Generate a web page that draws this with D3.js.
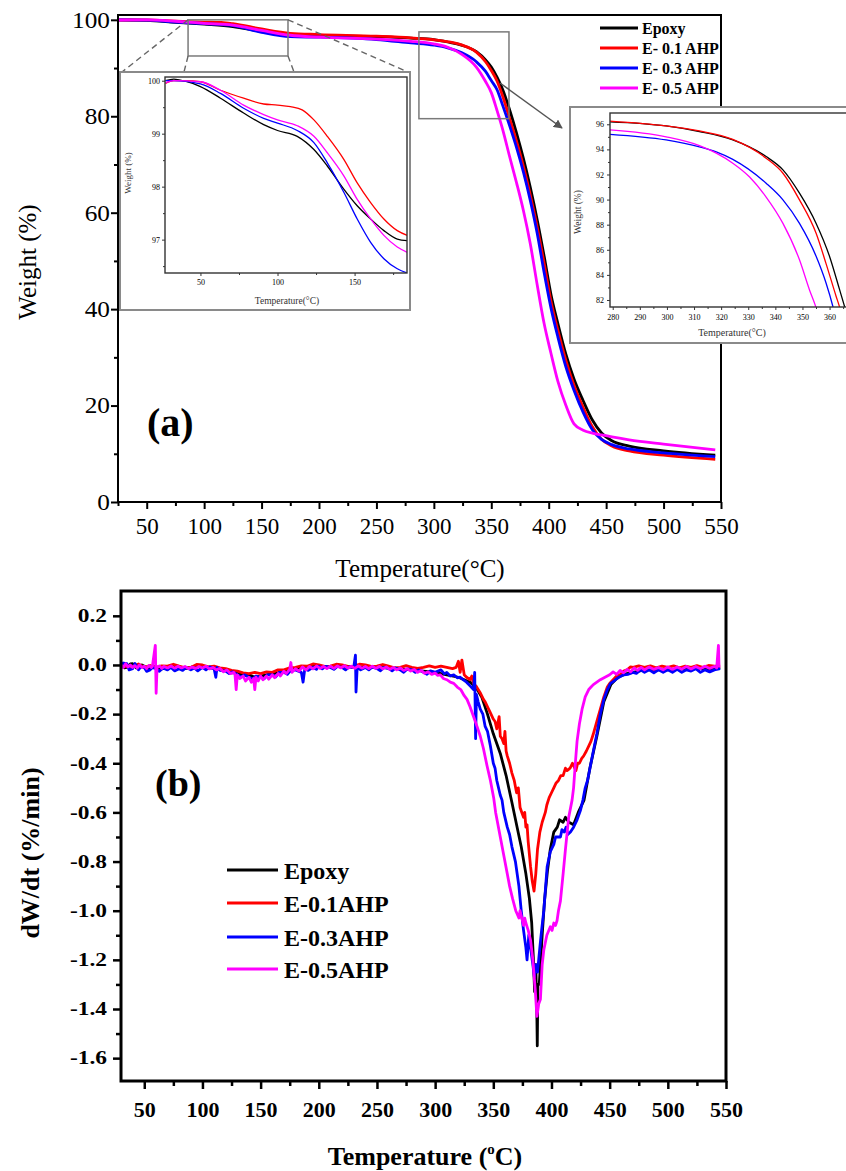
<!DOCTYPE html>
<html><head><meta charset="utf-8">
<script src="https://cdn.jsdelivr.net/npm/d3@7"></script>
<style>body{margin:0;background:#fff}svg{display:block}</style>
</head><body>
<svg id="c" width="846" height="1171"></svg>
<script>
// ---------------- DATA ----------------
const namesA = ["Epoxy", "E- 0.1 AHP", "E- 0.3 AHP", "E- 0.5 AHP"];
const namesB = ["Epoxy", "E-0.1AHP", "E-0.3AHP", "E-0.5AHP"];
const colors = ["#000000", "#ff0000", "#0000ff", "#ff00ff"];

// (a) main TGA curves  [temperature °C, weight %]
const tgaEpoxy = [[25,100.0],[50,99.9],[75,99.5],[100,99.1],[125,98.6],[150,97.6],[175,96.9],[200,96.7],[250,96.5],[280,96.2],[300,95.9],[312,95.4],[324,94.75],[337,93.4],[345,91.7],[350,90.2],[355,88.1],[360,85.5],[366,81.3],[372,76.5],[378,71.2],[384,65.2],[390,58.5],[396,51],[402,43],[408,37],[415,30.6],[422,25.5],[430,21],[438,17],[446,14.3],[455,12.7],[470,11.6],[500,10.6],[545,9.7]];
const tgaE01 = [[25,99.95],[50,99.98],[75,99.75],[100,99.54],[115,99.45],[125,99.2],[150,98.1],[175,97.2],[200,96.95],[250,96.6],[280,96.26],[300,95.87],[312,95.47],[324,94.8],[337,93.3],[345,91.3],[350,89.5],[355,87.3],[360,84.1],[366,79.5],[372,74.8],[378,69.6],[384,63.6],[390,57],[396,49.5],[402,41.6],[408,35.6],[415,29.3],[422,24.2],[430,19.6],[438,15.6],[446,13.0],[455,11.6],[470,10.6],[500,9.7],[545,8.85]];
const tgaE03 = [[25,100.0],[50,99.94],[75,99.55],[100,99.2],[125,98.8],[150,97.4],[175,96.5],[200,96.4],[250,95.9],[280,95.2],[300,94.75],[312,94.2],[324,93.2],[337,91.3],[345,89.3],[350,87.4],[355,85.5],[360,82.2],[366,78.0],[372,73.5],[378,68.4],[384,62.5],[390,55.7],[396,47.6],[402,40.2],[408,34.2],[415,28.0],[422,23.2],[430,18.6],[438,15.0],[446,13.0],[455,11.9],[470,11.0],[500,10.2],[545,9.4]];
const tgaE05 = [[25,99.96],[50,99.98],[75,99.7],[100,99.26],[125,98.9],[150,97.8],[175,96.8],[200,96.4],[250,96.0],[280,95.55],[300,95.0],[312,94.3],[324,92.9],[337,90.2],[345,87.2],[350,84.9],[355,81.2],[360,77.2],[366,71.6],[372,66.2],[378,60.4],[384,53.5],[390,45.0],[396,37.0],[402,30.8],[408,25.0],[415,20.0],[422,16.2],[430,14.9],[438,14.3],[446,13.9],[455,13.5],[470,12.9],[500,12.0],[545,10.8]];

// (a) left inset (low-temperature zoom)
const insLoEpoxy = [[27.3,100.0],[32.7,100.03],[40,99.99],[50,99.89],[63,99.67],[78,99.39],[91,99.17],[100,99.06],[112.8,98.95],[123.6,98.7],[132.3,98.39],[143.1,97.95],[151.7,97.64],[160.4,97.39],[169,97.17],[177.7,97.01],[184.2,96.98]];
const insLoE01 = [[27.3,99.95],[32.7,100.0],[40,100.0],[50,99.98],[63,99.82],[78,99.67],[91,99.56],[100,99.54],[108.4,99.51],[116,99.45],[123.6,99.26],[132.3,98.95],[143.1,98.51],[151.7,98.07],[160.4,97.7],[169,97.39],[177.7,97.17],[184.2,97.08]];
const insLoE03 = [[27.3,100.0],[32.7,100.0],[50,99.94],[63,99.76],[78,99.48],[91,99.29],[100,99.2],[112.8,99.06],[123.6,98.83],[132.3,98.45],[143.1,97.89],[151.7,97.39],[160.4,96.95],[169,96.64],[177.7,96.45],[184.2,96.37]];
const insLoE05 = [[27.3,99.96],[32.7,100.0],[50,99.98],[63,99.82],[78,99.54],[91,99.36],[100,99.26],[112.8,99.15],[123.6,98.95],[132.3,98.64],[143.1,98.2],[151.7,97.76],[160.4,97.39],[169,97.08],[177.7,96.86],[184.2,96.76]];

// (a) right inset (onset zoom)
const insHiEpoxy = [[279,96.2],[299.7,95.87],[312,95.42],[324.3,94.75],[336.6,93.43],[342.8,92.37],[348.9,90.51],[355,88.12],[360,85.47],[363.7,82.82],[365.5,81.5],[366.5,80.7]];
const insHiE01 = [[279,96.26],[299.7,95.87],[312,95.47],[324.3,94.8],[336.6,93.3],[342.8,92.1],[348.9,89.98],[355,87.33],[358.7,84.9],[362.4,82.3],[363.8,81.36],[364.5,80.8]];
const insHiE03 = [[279,95.2],[299.7,94.75],[312,94.2],[318.2,93.8],[324.3,93.2],[336.6,91.3],[342.8,89.98],[348.9,88.1],[355,85.5],[358.7,83.35],[361.2,81.5],[362,80.8]];
const insHiE05 = [[279,95.55],[299.7,95.0],[312,94.3],[318.2,93.7],[324.3,92.9],[330.5,91.8],[336.6,90.2],[342.8,88.1],[348.9,85.2],[352.6,82.8],[355,81.4],[356,80.7]];

// (b) DTG curves [temperature °C, dW/dt %/min]
const dtgEpoxy = [[30,0.0],[33,-0.012],[35,-0.01],[38,0.004],[40,0.005],[43,-0.012],[45,-0.01],[48,0.0],[50,-0.005],[53,-0.016],[55,-0.015],[58,-0.004],[60,-0.01],[65,-0.016],[70,-0.012],[75,-0.004],[80,-0.008],[85,-0.015],[90,-0.01],[95,-0.002],[100,-0.005],[105,-0.014],[110,-0.012],[115,-0.018],[120,-0.02],[125,-0.032],[130,-0.03],[135,-0.042],[140,-0.04],[145,-0.05],[150,-0.045],[155,-0.04],[160,-0.035],[165,-0.032],[170,-0.025],[175,-0.02],[180,-0.015],[185,-0.012],[190,-0.008],[200,-0.005],[210,-0.008],[220,-0.005],[230,-0.01],[240,-0.008],[250,-0.01],[260,-0.012],[270,-0.015],[280,-0.02],[290,-0.025],[300,-0.03],[310,-0.04],[320,-0.05],[330,-0.07],[335,-0.09],[340,-0.13],[345,-0.2],[350,-0.28],[356,-0.36],[361,-0.45],[366,-0.56],[370,-0.65],[374,-0.74],[378,-0.85],[381,-0.95],[383,-1.05],[384.5,-1.2],[385.5,-1.33],[386.5,-1.22],[387.3,-1.38],[387.8,-1.55],[388.3,-1.3],[389.5,-1.3],[390.5,-1.22],[392,-1.1],[394,-0.96],[396.5,-0.84],[399,-0.75],[402,-0.68],[405,-0.66],[407,-0.63],[410,-0.64],[412,-0.62],[415,-0.64],[419,-0.65],[423,-0.6],[428,-0.55],[433,-0.42],[439,-0.29],[445,-0.15],[451,-0.08],[457,-0.05],[465,-0.035],[480,-0.02],[500,-0.02],[520,-0.015],[540,-0.015],[545,-0.01]];
const dtgE01 = [[30,0.0],[35,-0.008],[40,-0.005],[45,0.004],[50,-0.01],[55,-0.002],[60,-0.01],[65,-0.004],[70,-0.005],[75,0.003],[80,-0.005],[85,-0.012],[90,-0.01],[95,0.002],[100,0.0],[105,-0.008],[110,-0.005],[115,-0.012],[120,-0.015],[125,-0.022],[130,-0.025],[135,-0.032],[140,-0.035],[145,-0.03],[150,-0.035],[155,-0.028],[160,-0.03],[165,-0.02],[170,-0.02],[175,-0.012],[180,-0.01],[185,-0.004],[190,-0.005],[195,0.004],[200,0.0],[205,-0.006],[210,-0.005],[215,0.003],[220,0.0],[225,-0.006],[230,-0.005],[235,0.003],[240,0.0],[245,-0.006],[250,-0.005],[255,0.002],[260,-0.005],[265,-0.012],[270,-0.01],[275,-0.003],[280,-0.01],[285,-0.014],[290,-0.01],[295,-0.004],[300,-0.01],[305,-0.005],[310,-0.01],[315,-0.015],[318,-0.01],[320,0.015],[321.5,-0.03],[323,0.02],[325,-0.04],[327,-0.05],[330,-0.06],[331.5,-0.045],[333,-0.075],[335,-0.085],[337,-0.1],[339,-0.115],[341.5,-0.14],[343,-0.15],[345,-0.17],[347,-0.19],[350,-0.22],[351.5,-0.23],[353,-0.26],[355,-0.21],[356,-0.29],[357.5,-0.3],[359,-0.32],[360,-0.27],[361,-0.35],[362,-0.37],[364,-0.4],[366,-0.44],[368,-0.47],[370,-0.52],[371.5,-0.5],[373,-0.58],[374.5,-0.6],[376,-0.62],[377,-0.6],[378,-0.66],[379,-0.65],[380,-0.72],[382,-0.82],[383.5,-0.88],[385,-0.92],[386.5,-0.85],[388,-0.75],[390,-0.68],[392,-0.64],[394.7,-0.6],[396,-0.57],[398,-0.54],[400,-0.52],[402,-0.5],[404,-0.48],[406,-0.47],[408,-0.45],[410,-0.45],[412,-0.42],[413.4,-0.43],[416,-0.42],[418,-0.4],[419,-0.41],[421,-0.43],[422.5,-0.4],[424,-0.4],[426,-0.38],[427.7,-0.37],[430,-0.35],[432,-0.33],[434,-0.31],[436,-0.28],[439,-0.23],[442,-0.18],[445,-0.13],[448,-0.09],[450,-0.075],[453,-0.06],[456,-0.045],[459,-0.04],[462,-0.025],[465,-0.02],[468,-0.008],[470,-0.01],[475,-0.004],[480,-0.01],[485,-0.004],[490,-0.012],[495,-0.005],[500,-0.01],[505,-0.004],[510,-0.012],[515,-0.005],[520,-0.01],[525,-0.003],[530,-0.01],[535,-0.002],[540,-0.005],[545,-0.005]];
const dtgE03 = [[30,-0.01],[32,0.008],[35,0.005],[37,-0.02],[40,-0.015],[42,0.006],[45,-0.02],[47,-0.008],[50,-0.01],[52,-0.026],[55,-0.02],[57,-0.01],[60,-0.015],[63,-0.026],[66,-0.012],[70,-0.02],[73,-0.01],[76,-0.024],[80,-0.015],[83,-0.022],[86,-0.01],[90,-0.02],[93,-0.012],[96,-0.024],[100,-0.01],[103,-0.02],[106,-0.008],[110,-0.015],[111.5,-0.05],[112.5,-0.01],[115,-0.022],[120,-0.025],[123,-0.035],[126,-0.028],[130,-0.04],[133,-0.05],[136,-0.04],[140,-0.05],[143,-0.058],[146,-0.045],[150,-0.05],[153,-0.056],[156,-0.04],[160,-0.04],[163,-0.048],[166,-0.03],[170,-0.03],[173,-0.038],[176,-0.022],[180,-0.02],[185,-0.03],[186.5,-0.07],[188,-0.015],[191,-0.022],[195,-0.01],[198,-0.018],[200,-0.005],[203,-0.016],[206,-0.006],[210,-0.01],[213,-0.018],[216,-0.006],[220,-0.01],[223,-0.02],[226,-0.008],[230,-0.01],[231.5,0.04],[232,-0.11],[233,-0.01],[236,-0.02],[240,-0.01],[243,-0.02],[246,-0.008],[250,-0.015],[253,-0.024],[256,-0.01],[260,-0.015],[263,-0.024],[266,-0.012],[270,-0.02],[273,-0.03],[276,-0.016],[280,-0.02],[283,-0.03],[286,-0.02],[290,-0.03],[293,-0.038],[296,-0.024],[300,-0.03],[305,-0.02],[308,-0.036],[310,-0.03],[313,-0.045],[316,-0.04],[319,-0.052],[321.6,-0.05],[324,-0.06],[327,-0.07],[330,-0.085],[333,-0.1],[334,-0.03],[334.8,-0.3],[335.5,-0.12],[337,-0.15],[338.8,-0.18],[341,-0.2],[343,-0.25],[345,-0.27],[347.5,-0.33],[350,-0.4],[351.5,-0.42],[353,-0.47],[356,-0.53],[357.5,-0.55],[359,-0.6],[362,-0.66],[364,-0.69],[366,-0.74],[369,-0.8],[372,-0.9],[374,-1.0],[376,-1.08],[378,-1.15],[379,-1.2],[380.5,-1.1],[382,-1.15],[384,-1.22],[385.3,-1.27],[386.5,-1.22],[388,-1.25],[390,-1.15],[391.5,-1.08],[393.4,-1.0],[396.3,-0.82],[399,-0.76],[402,-0.73],[403.5,-0.7],[405,-0.7],[407.7,-0.7],[409,-0.67],[411,-0.68],[412.5,-0.66],[414,-0.69],[416.3,-0.68],[419,-0.66],[422,-0.63],[425,-0.59],[427,-0.55],[429,-0.5],[431,-0.47],[433.5,-0.41],[436,-0.35],[439,-0.28],[442,-0.2],[445,-0.14],[448,-0.1],[450.7,-0.075],[453,-0.068],[455,-0.06],[458,-0.05],[462,-0.04],[466,-0.038],[470,-0.03],[473,-0.034],[476.5,-0.02],[480,-0.03],[484,-0.02],[488,-0.032],[492,-0.02],[496,-0.03],[500,-0.02],[504,-0.03],[508,-0.018],[512,-0.03],[516,-0.02],[520,-0.025],[524,-0.015],[528,-0.03],[532,-0.02],[536,-0.028],[540,-0.02],[545,-0.015]];
const dtgE05 = [[30,0.0],[32,-0.01],[34,0.005],[36,-0.008],[38,0.0],[40,-0.01],[42,-0.003],[44,-0.012],[46,0.0],[48,-0.01],[50,-0.005],[52,-0.015],[54,-0.002],[56,-0.01],[57,-0.005],[59.5,0.08],[60.2,-0.115],[61,-0.01],[63,-0.004],[65,-0.014],[67,-0.006],[70,-0.012],[73,-0.004],[76,-0.013],[79,-0.005],[82,-0.012],[85,-0.006],[88,-0.015],[91,-0.008],[94,-0.014],[97,-0.006],[100,-0.012],[103,-0.005],[106,-0.016],[109,-0.01],[112,-0.02],[115,-0.014],[118,-0.028],[121,-0.02],[124,-0.035],[127,-0.03],[128,-0.04],[129,-0.1],[130,-0.04],[132,-0.055],[135,-0.045],[137,-0.065],[140,-0.05],[142,-0.07],[144,-0.055],[145,-0.1],[146,-0.05],[148,-0.065],[150,-0.045],[152,-0.06],[155,-0.045],[157,-0.058],[160,-0.04],[162,-0.052],[165,-0.035],[167,-0.045],[170,-0.025],[172,-0.035],[175,-0.018],[176,0.01],[177,-0.03],[180,-0.015],[183,-0.025],[186,-0.008],[189,-0.02],[192,-0.006],[195,-0.016],[198,-0.004],[201,-0.014],[204,-0.006],[207,-0.015],[210,-0.005],[213,-0.014],[216,-0.004],[219,-0.012],[222,-0.003],[225,-0.013],[228,-0.005],[231,-0.014],[234,-0.004],[237,-0.013],[240,-0.006],[243,-0.015],[246,-0.005],[249,-0.014],[252,-0.006],[255,-0.016],[258,-0.008],[261,-0.018],[264,-0.01],[267,-0.02],[270,-0.012],[273,-0.022],[276,-0.015],[279,-0.025],[282,-0.018],[285,-0.03],[288,-0.022],[291,-0.034],[294,-0.028],[297,-0.038],[300,-0.033],[302,-0.042],[304.5,-0.04],[307,-0.055],[310,-0.06],[313,-0.07],[316,-0.075],[319,-0.09],[322,-0.1],[325,-0.125],[327.4,-0.14],[330,-0.17],[333,-0.21],[336,-0.25],[338.8,-0.29],[341.5,-0.34],[344.6,-0.41],[347.5,-0.47],[350.3,-0.54],[352,-0.6],[354,-0.65],[356,-0.7],[358,-0.75],[360,-0.8],[362,-0.85],[364,-0.9],[366.5,-0.95],[369.3,-1.0],[372,-1.03],[373,-1.0],[374,-1.02],[376,-1.06],[377,-1.03],[378,-1.05],[380,-1.08],[382,-1.12],[384,-1.2],[386,-1.32],[387.5,-1.43],[389,-1.38],[390.5,-1.36],[392,-1.22],[393.4,-1.16],[396,-1.1],[399,-1.065],[400.5,-1.08],[402,-1.05],[403.5,-1.06],[404.8,-1.04],[406,-1.0],[407.7,-0.96],[410,-0.85],[412,-0.75],[414.8,-0.62],[417.7,-0.55],[419,-0.5],[420.5,-0.4],[422,-0.31],[424,-0.24],[426.3,-0.18],[429,-0.13],[432,-0.1],[434,-0.09],[436,-0.08],[439,-0.07],[442,-0.06],[446,-0.05],[450,-0.04],[453,-0.028],[456,-0.038],[459,-0.022],[462,-0.032],[465,-0.018],[468,-0.028],[471,-0.012],[474,-0.022],[477,-0.01],[480,-0.02],[484,-0.008],[488,-0.018],[492,-0.01],[496,-0.02],[500,-0.008],[504,-0.018],[508,-0.008],[512,-0.017],[516,-0.006],[520,-0.016],[524,-0.006],[528,-0.015],[532,-0.005],[536,-0.014],[540,-0.006],[542,-0.012],[543.5,0.08],[544,-0.01]];

// tick values
const xTicksA = [50,100,150,200,250,300,350,400,450,500,550];
const xMinorA = [25,75,125,175,225,275,325,375,425,475,525];
const yTicksA = [0,20,40,60,80,100];
const yMinorA = [10,30,50,70,90];
const xTicksLo = [50,100,150], xMinorLo = [75,125,175];
const yTicksLo = [97,98,99,100], yMinorLo = [96.5,97.5,98.5,99.5];
const xTicksHi = [280,290,300,310,320,330,340,350,360], xMinorHi = [285,295,305,315,325,335,345,355,365];
const yTicksHi = [82,84,86,88,90,92,94,96], yMinorHi = [83,85,87,89,91,93,95];
const xTicksB = [50,100,150,200,250,300,350,400,450,500,550];
const xMinorB = [75,125,175,225,275,325,375,425,475,525];
const yTicksB = [0.2,0.0,-0.2,-0.4,-0.6,-0.8,-1.0,-1.2,-1.4,-1.6];
const yMinorB = [0.1,-0.1,-0.3,-0.5,-0.7,-0.9,-1.1,-1.3,-1.5];

// ---------------- DRAWING ----------------
const serif = "'Liberation Serif','Times New Roman',serif";
const svg = d3.select("#c");
const defs = svg.append("defs");

function axes(g, o) {
  const [xl, xr] = o.x.range(); const [yb, yt] = o.y.range();
  const parts = [];
  const bx = g.append("g").attr("transform", `translate(0,${yb})`)
    .call(d3.axisBottom(o.x).tickValues(o.xTicks).tickSize(o.major).tickPadding(o.xPad).tickFormat(o.xFmt));
  parts.push(bx);
  parts.push(g.append("g").attr("transform", `translate(0,${yb})`)
    .call(d3.axisBottom(o.x).tickValues(o.xMinor).tickSize(o.minor).tickFormat("")));
  const ly = g.append("g").attr("transform", `translate(${xl},0)`)
    .call(d3.axisLeft(o.y).tickValues(o.yTicks).tickSize(o.major).tickPadding(o.yPad).tickFormat(o.yFmt));
  parts.push(ly);
  parts.push(g.append("g").attr("transform", `translate(${xl},0)`)
    .call(d3.axisLeft(o.y).tickValues(o.yMinor).tickSize(o.minor).tickFormat("")));
  parts.forEach(a => {
    a.select(".domain").remove();
    a.selectAll("line").attr("stroke", o.color).attr("stroke-width", o.tw);
    a.selectAll("text").attr("font-family", serif).attr("font-size", o.font)
      .attr("font-weight", o.weight).attr("fill", "#000");
  });
  if (o.xFont) bx.selectAll("text").attr("font-size", o.xFont);
  if (o.ysx) {
    ly.selectAll("text").attr("x", -(o.major + o.yPad) / o.ysx).attr("transform", `scale(${o.ysx},1)`);
  }
  g.append("rect").attr("x", xl).attr("y", yt).attr("width", xr - xl).attr("height", yb - yt)
    .attr("fill", "none").attr("stroke", o.color).attr("stroke-width", o.fw);
}

function clip(id, x, y) {
  const [xl, xr] = x.range(); const [yb, yt] = y.range();
  defs.append("clipPath").attr("id", id).append("rect")
    .attr("x", xl).attr("y", yt).attr("width", xr - xl).attr("height", yb - yt);
}

function curves(g, x, y, sets, sw, curve, clipId) {
  const line = d3.line().x(d => x(d[0])).y(d => y(d[1])).curve(curve);
  const cg = g.append("g").attr("clip-path", `url(#${clipId})`);
  sets.forEach((s, i) => cg.append("path").attr("d", line(s)).attr("fill", "none")
    .attr("stroke", colors[i]).attr("stroke-width", sw).attr("stroke-linejoin", "round"));
}

// ===== Panel (a) =====
const xA = d3.scaleLinear([25, 550], [118, 721]);
const yA = d3.scaleLinear([0, 101], [502, 15]);
const gA = svg.append("g");
clip("clipA", xA, yA);
curves(gA, xA, yA, [tgaEpoxy, tgaE01, tgaE03, tgaE05], 2.8, d3.curveMonotoneX, "clipA");
axes(gA, {x: xA, y: yA, xTicks: xTicksA, xMinor: xMinorA, yTicks: yTicksA, yMinor: yMinorA,
  major: 7, minor: 4, xPad: 9, yPad: 1, xFmt: d3.format("d"), yFmt: d3.format("d"),
  font: 23, weight: "normal", color: "#000", tw: 2, fw: 2, ysx: 1.1});

gA.append("text").attr("transform", "translate(36,262) rotate(-90)").attr("text-anchor", "middle")
  .attr("font-family", serif).attr("font-size", 25).text("Weight (%)");
gA.append("text").attr("x", 420).attr("y", 577).attr("text-anchor", "middle")
  .attr("font-family", serif).attr("font-size", 25).text("Temperature(°C)");
gA.append("text").attr("x", 147).attr("y", 436).attr("font-family", serif).attr("font-size", 40)
  .attr("font-weight", "bold").text("(a)");

// legend (a)
namesA.forEach((n, i) => {
  const yy = 28 + i * 20;
  gA.append("line").attr("x1", 600).attr("x2", 638).attr("y1", yy).attr("y2", yy)
    .attr("stroke", colors[i]).attr("stroke-width", 3);
  gA.append("text").attr("x", 642).attr("y", yy + 5.5).attr("font-family", serif)
    .attr("font-size", 16).attr("font-weight", "bold").text(n);
});

// zoom rectangles + connectors
const gray = "#7a7a7a";
const rA = {x0: xA(86), x1: xA(173), y0: yA(100), y1: yA(92.5)};
gA.append("rect").attr("x", rA.x0).attr("y", rA.y0).attr("width", rA.x1 - rA.x0).attr("height", rA.y1 - rA.y0)
  .attr("fill", "none").attr("stroke", gray).attr("stroke-width", 1.5);
[[rA.x0, rA.y0, 122, 72], [rA.x0, rA.y1, 184, 72], [rA.x1, rA.y0, 408, 72], [rA.x1, rA.y1, 294, 72]].forEach(l =>
  gA.append("line").attr("x1", l[0]).attr("y1", l[1]).attr("x2", l[2]).attr("y2", l[3])
    .attr("stroke", "#666").attr("stroke-width", 1.4).attr("stroke-dasharray", "6,4"));
const rB = {x0: xA(287), x1: xA(365.4), y0: yA(97.5), y1: yA(79.5)};
gA.append("rect").attr("x", rB.x0).attr("y", rB.y0).attr("width", rB.x1 - rB.x0).attr("height", rB.y1 - rB.y0)
  .attr("fill", "none").attr("stroke", gray).attr("stroke-width", 1.5);
defs.append("marker").attr("id", "arr").attr("viewBox", "0 0 10 10").attr("refX", 9).attr("refY", 5)
  .attr("markerWidth", 6).attr("markerHeight", 6).attr("orient", "auto")
  .append("path").attr("d", "M0,0 L10,5 L0,10 z").attr("fill", "#555");
gA.append("line").attr("x1", 500).attr("y1", 83).attr("x2", 562).attr("y2", 128)
  .attr("stroke", "#555").attr("stroke-width", 1.5).attr("marker-end", "url(#arr)");

// inset low
const gI1 = svg.append("g");
gI1.append("rect").attr("x", 120).attr("y", 72).attr("width", 290).attr("height", 238)
  .attr("fill", "#fff").attr("stroke", "#8a8a8a").attr("stroke-width", 2);
const xI1 = d3.scaleLinear([27, 184], [165, 407]);
const yI1 = d3.scaleLinear([96.37, 100.07], [273, 77]);
clip("clipI1", xI1, yI1);
curves(gI1, xI1, yI1, [insLoEpoxy, insLoE01, insLoE03, insLoE05], 1.3, d3.curveMonotoneX, "clipI1");
axes(gI1, {x: xI1, y: yI1, xTicks: xTicksLo, xMinor: xMinorLo, yTicks: yTicksLo, yMinor: yMinorLo,
  major: 3, minor: 2, xPad: 3, yPad: 2, xFmt: d3.format("d"), yFmt: d3.format("d"),
  font: 8, weight: "normal", color: "#333", tw: 1, fw: 1.4});
gI1.append("text").attr("transform", "translate(131,173) rotate(-90)").attr("text-anchor", "middle")
  .attr("font-family", serif).attr("font-size", 9).attr("fill", "#333").text("Weight (%)");
gI1.append("text").attr("x", 287).attr("y", 304).attr("text-anchor", "middle")
  .attr("font-family", serif).attr("font-size", 9.5).attr("fill", "#333").text("Temperature(°C)");

// inset high
const gI2 = svg.append("g");
gI2.append("rect").attr("x", 570).attr("y", 107).attr("width", 290).attr("height", 236)
  .attr("fill", "#fff").attr("stroke", "#8a8a8a").attr("stroke-width", 2);
const xI2 = d3.scaleLinear([279, 366.8], [610, 848]);
const yI2 = d3.scaleLinear([81.44, 96.9], [307, 113]);
clip("clipI2", xI2, yI2);
curves(gI2, xI2, yI2, [insHiEpoxy, insHiE01, insHiE03, insHiE05], 1.3, d3.curveMonotoneX, "clipI2");
axes(gI2, {x: xI2, y: yI2, xTicks: xTicksHi, xMinor: xMinorHi, yTicks: yTicksHi, yMinor: yMinorHi,
  major: 3, minor: 2, xPad: 4, yPad: 3, xFmt: d3.format("d"), yFmt: d3.format("d"),
  font: 8, weight: "normal", color: "#333", tw: 1, fw: 1.4});
gI2.append("text").attr("transform", "translate(581,212) rotate(-90)").attr("text-anchor", "middle")
  .attr("font-family", serif).attr("font-size", 9.5).attr("fill", "#333").text("Weight (%)");
gI2.append("text").attr("x", 732).attr("y", 336).attr("text-anchor", "middle")
  .attr("font-family", serif).attr("font-size", 10).attr("fill", "#333").text("Temperature(°C)");

// ===== Panel (b) =====
const xB = d3.scaleLinear([30, 550], [121, 726]);
const yB = d3.scaleLinear([-1.693, 0.301], [1081, 591]);
const gB = svg.append("g");
clip("clipB", xB, yB);
curves(gB, xB, yB, [dtgEpoxy, dtgE01, dtgE03, dtgE05], 2.8, d3.curveLinear, "clipB");
axes(gB, {x: xB, y: yB, xTicks: xTicksB, xMinor: xMinorB, yTicks: yTicksB, yMinor: yMinorB,
  major: 8, minor: 5, xPad: 12, yPad: 6, xFmt: d3.format("d"), yFmt: d => d.toFixed(1),
  font: 18, xFont: 22, weight: "bold", color: "#000", tw: 2.5, fw: 3, ysx: 1.3});

gB.append("text").attr("transform", "translate(30,853) rotate(-90)").attr("text-anchor", "middle")
  .attr("dominant-baseline", "central")
  .attr("font-family", serif).attr("font-size", 26).attr("font-weight", "bold").text("dW/dt (%/min)");
const xl = gB.append("text").attr("x", 425).attr("y", 1165).attr("text-anchor", "middle")
  .attr("font-family", serif).attr("font-size", 26).attr("font-weight", "bold");
xl.append("tspan").text("Temperature (");
xl.append("tspan").attr("font-size", 15).attr("dy", -11).text("o");
xl.append("tspan").attr("dy", 11).text("C)");
gB.append("text").attr("x", 155).attr("y", 796).attr("font-family", serif).attr("font-size", 38)
  .attr("font-weight", "bold").text("(b)");

const legY = [870, 903, 937, 969];
namesB.forEach((n, i) => {
  gB.append("line").attr("x1", 227).attr("x2", 278).attr("y1", legY[i]).attr("y2", legY[i])
    .attr("stroke", colors[i]).attr("stroke-width", 3);
  gB.append("text").attr("x", 284).attr("y", legY[i] + 9).attr("font-family", serif)
    .attr("font-size", 24).attr("font-weight", "bold").text(n);
});
</script>
</body></html>
